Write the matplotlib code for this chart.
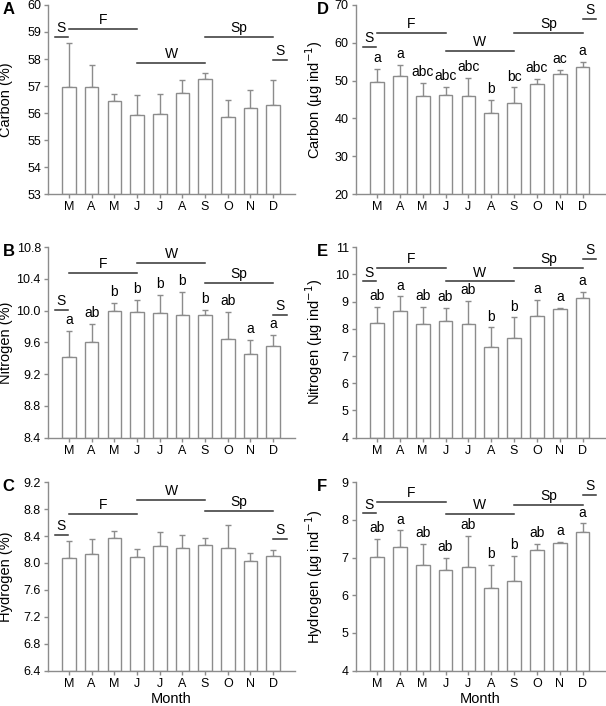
import numpy as np
import matplotlib.pyplot as plt

plt.rcParams['font.family'] = ['Liberation Sans', 'DejaVu Sans']

months = ['M', 'A', 'M', 'J', 'J', 'A', 'S', 'O', 'N', 'D']

# panel A - carbon %
carb_pct = [56.98, 56.95, 56.46, 55.91, 55.96, 56.76, 57.27, 55.86, 56.18, 56.29]
carb_pct_top = [58.58, 57.77, 56.72, 56.67, 56.72, 57.24, 57.50, 56.48, 56.84, 57.24]
# panel B - nitrogen %
nit_pct = [9.42, 9.61, 10.0, 9.98, 9.97, 9.94, 9.95, 9.64, 9.46, 9.56]
nit_pct_top = [9.74, 9.83, 10.10, 10.14, 10.20, 10.24, 10.01, 9.98, 9.63, 9.69]
nit_pct_letters = ['a', 'ab', 'b', 'b', 'b', 'b', 'b', 'ab', 'a', 'a']
# panel C - hydrogen %
hyd_pct = [8.08, 8.14, 8.37, 8.09, 8.25, 8.22, 8.27, 8.22, 8.03, 8.11]
hyd_pct_top = [8.32, 8.36, 8.47, 8.21, 8.46, 8.42, 8.37, 8.56, 8.15, 8.19]
# panel D - carbon ug/ind
carb_ug = [49.7, 51.2, 46.0, 46.1, 46.0, 41.4, 44.0, 49.0, 51.8, 53.7]
carb_ug_top = [53.0, 54.1, 49.3, 48.4, 50.8, 44.9, 48.2, 50.5, 52.8, 54.9]
carb_ug_letters = ['a', 'a', 'abc', 'abc', 'abc', 'b', 'bc', 'abc', 'ac', 'a']
# panel E - nitrogen ug/ind
nit_ug = [8.21, 8.64, 8.16, 8.28, 8.19, 7.32, 7.68, 8.47, 8.72, 9.13]
nit_ug_top = [8.80, 9.19, 8.80, 8.78, 9.02, 8.05, 8.42, 9.07, 8.76, 9.36]
nit_ug_letters = ['ab', 'a', 'ab', 'ab', 'ab', 'b', 'b', 'a', 'a', 'a']
# panel F - hydrogen ug/ind
hyd_ug = [7.02, 7.29, 6.81, 6.68, 6.76, 6.20, 6.37, 7.20, 7.39, 7.69]
hyd_ug_top = [7.50, 7.72, 7.37, 7.00, 7.57, 6.80, 7.05, 7.37, 7.41, 7.91]
hyd_ug_letters = ['ab', 'a', 'ab', 'ab', 'ab', 'b', 'b', 'ab', 'a', 'a']

# season bars (S, F, W, Sp, S)
season_names = ['S', 'F', 'W', 'Sp', 'S']
season_start = [-0.62, 0.0, 3.0, 6.0, 9.0]
season_end = [-0.05, 3.0, 6.0, 9.0, 9.6]
seas_A = [58.80, 59.12, 57.84, 58.80, 57.97]
seas_B = [10.01, 10.47, 10.60, 10.35, 9.95]
seas_C = [8.42, 8.73, 8.94, 8.77, 8.36]
seas_D = [59.0, 62.5, 57.85, 62.5, 66.2]
seas_E = [9.74, 10.25, 9.74, 10.25, 10.57]
seas_F = [8.17, 8.47, 8.16, 8.40, 8.67]

ug = '(µg ind$^{-1}$)'
panels = [
    ('A', carb_pct, carb_pct_top, None, seas_A, (53, 60), np.arange(53, 61, 1), '%d', 'Carbon (%)'),
    ('B', nit_pct, nit_pct_top, nit_pct_letters, seas_B, (8.4, 10.8), np.arange(8.4, 10.81, 0.4), '%.1f', 'Nitrogen (%)'),
    ('C', hyd_pct, hyd_pct_top, None, seas_C, (6.4, 9.2), np.arange(6.4, 9.21, 0.4), '%.1f', 'Hydrogen (%)'),
    ('D', carb_ug, carb_ug_top, carb_ug_letters, seas_D, (20, 70), np.arange(20, 71, 10), '%d', 'Carbon ' + ug),
    ('E', nit_ug, nit_ug_top, nit_ug_letters, seas_E, (4, 11), np.arange(4, 12, 1), '%d', 'Nitrogen ' + ug),
    ('F', hyd_ug, hyd_ug_top, hyd_ug_letters, seas_F, (4, 9), np.arange(4, 10, 1), '%d', 'Hydrogen ' + ug),
]

# axes boxes [left, bottom, width, height]
boxes = {
    'A': [0.079, 0.725, 0.408, 0.268],
    'B': [0.079, 0.380, 0.408, 0.270],
    'C': [0.079, 0.050, 0.408, 0.267],
    'D': [0.587, 0.725, 0.411, 0.268],
    'E': [0.587, 0.380, 0.411, 0.270],
    'F': [0.587, 0.050, 0.411, 0.267],
}

fig = plt.figure(figsize=(6.06, 7.06), dpi=100)
gray = '#8c8c8c'
x = np.arange(len(months))

for tag, vals, tops, letters, seas, ylim, yticks, fmt, ylab in panels:
    ax = fig.add_axes(boxes[tag])
    vals = np.array(vals)
    err = np.array(tops) - vals
    ax.bar(x, vals - ylim[0], bottom=ylim[0], width=0.6, color='white',
           edgecolor=gray, linewidth=1.0, zorder=2)
    ax.errorbar(x, vals, yerr=[np.zeros_like(err), err], fmt='none',
                ecolor=gray, elinewidth=1.0, capsize=2.5, capthick=1.0, zorder=1)
    span = ylim[1] - ylim[0]
    if letters:
        for xi, t, lab in zip(x, tops, letters):
            ax.text(xi, t + span * 0.02, lab, ha='center', va='bottom', fontsize=10)
    for s0, s1, yy, nm in zip(season_start, season_end, seas, season_names):
        ax.plot([s0, s1], [yy, yy], color='#333333', lw=1.1, clip_on=False)
        ax.text((s0 + s1) / 2, yy + span * 0.01, nm, ha='center', va='bottom', fontsize=10)
    ax.set_xlim(-0.93, 9.97)
    ax.set_ylim(*ylim)
    ax.set_yticks(yticks)
    ax.set_yticklabels([fmt % v for v in yticks])
    ax.set_xticks(x)
    ax.set_xticklabels(months)
    ax.spines['top'].set_visible(False)
    ax.spines['right'].set_visible(False)
    for sp in ['left', 'bottom']:
        ax.spines[sp].set_color(gray)
        ax.spines[sp].set_linewidth(1.0)
    ax.tick_params(axis='both', colors=gray, labelcolor='black', labelsize=9,
                   length=3, width=1.0, pad=2)
    ax.set_ylabel(ylab, fontsize=10.5)
    if tag in 'ABC':
        ax.yaxis.set_label_coords(-0.142, 0.5)
    else:
        ax.yaxis.set_label_coords(-0.125, 0.5)
    if tag in ('C', 'F'):
        ax.set_xlabel('Month', fontsize=10.5, labelpad=2)
    b = boxes[tag]
    fig.text(b[0] - 0.065 if tag in 'ABC' else b[0] - 0.055,
             b[1] + b[3] - 0.006, tag, fontsize=12, fontweight='bold',
             ha='center', va='center')

fig.savefig('out.png', dpi=100)
